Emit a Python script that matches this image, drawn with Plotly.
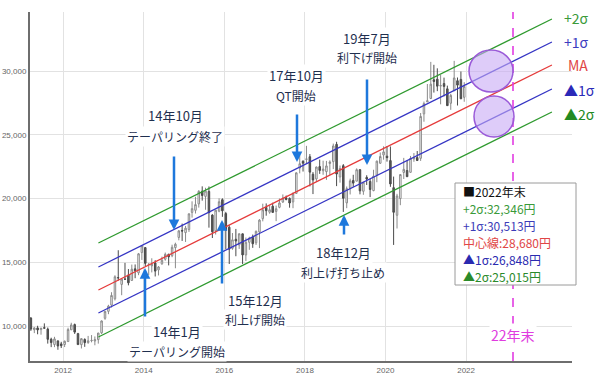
import plotly.graph_objects as go
import pandas as pd

# ---------------- data ----------------
first_month = "2011-03-01"
opens = [
    10620, 9708, 9850, 9719, 9868, 9758, 8964, 8545, 8835, 8597,
    8549, 8780, 9702, 10110, 9401, 8538, 8944, 8700, 8856, 8824, 8931, 9467,
    10604, 11150, 11640, 12135, 13799, 13261, 13676, 13994, 13572, 14484, 14170, 15759,
    16147, 14828, 14718, 14940, 14400, 14871, 15239, 15629, 15514, 16149, 16945, 17496,
    17325, 17562, 18913, 19074, 19576, 20571, 20164, 20553, 18697, 17468, 19007, 19910,
    18818, 17750, 16090, 16804, 16357, 17229, 15572, 16568, 16946, 16527, 17376, 18417,
    19298, 18923, 19393, 18985, 19309, 19722, 20055, 20008, 19733, 20400, 22389, 22916,
    23073, 23276, 21901, 21533, 22505, 22178, 22106, 22746, 22891, 24245, 21687, 22574,
    19655, 20797, 21416, 21358, 22258, 20566, 21659, 21339, 20616, 21831, 22764, 23415,
    23319, 22972, 20850, 18686, 19991, 22044, 22195, 22053, 23109, 23212, 23151, 26637,
    27576, 27843, 29314, 29357, 28814, 29015, 28600, 27469, 28451, 29235, 29341, 27936]
highs = [
    10700, 9900, 10017, 9876, 10207, 9880, 9082, 9152, 8835, 8759,
    8860, 9866, 10255, 10190, 9460, 9045, 9032, 9222, 9288, 9180, 9460, 10433,
    11190, 11662, 12650, 13980, 15942, 13711, 14953, 14466, 14818, 14828, 15727, 16320,
    16164, 14923, 15312, 15164, 14705, 15442, 15759, 15660, 16374, 16533, 17520, 18030,
    17850, 18826, 19778, 20133, 20655, 20953, 20841, 20946, 18770, 19117, 20012, 20012,
    18951, 17905, 17291, 17613, 17251, 17250, 16938, 17001, 17170, 17490, 18380, 19592,
    19615, 19460, 19668, 19445, 19998, 20318, 20230, 20080, 20481, 22048, 23383, 23000,
    24129, 23486, 22070, 22501, 23050, 22966, 22949, 22990, 24306, 24448, 22583, 22698,
    20940, 21556, 21860, 22362, 22308, 21290, 21823, 21540, 22255, 22975, 23608, 24091,
    24115, 24083, 21719, 20365, 21916, 23185, 23007, 23338, 23564, 23725, 26706, 27602,
    28979, 30714, 30485, 30208, 29685, 29480, 28852, 28209, 30796, 29489, 29960, 29121]
lows = [
    9620, 9441, 9351, 9318, 9811, 8619, 8343, 8343, 8135, 8272,
    8349, 8760, 9702, 9380, 8543, 8238, 8365, 8603, 8720, 8488, 8619, 9370,
    10486, 10927, 11452, 12004, 13555, 12415, 13614, 13188, 13572, 13748, 13986, 15180,
    14703, 13995, 14203, 13885, 13964, 14809, 15123, 14753, 15395, 14529, 16720, 16672,
    16592, 17380, 18498, 18820, 19287, 19832, 19115, 17714, 16901, 17176, 18922, 18562,
    16017, 14865, 15978, 15471, 16046, 14864, 15095, 15975, 16129, 16355, 16111, 18208,
    18650, 18805, 18909, 18224, 19233, 19656, 19856, 19280, 19239, 20392, 21972, 22114,
    22753, 20950, 20347, 21292, 21931, 21860, 21462, 21851, 22307, 20971, 21243, 18948,
    19241, 20315, 20911, 21358, 20327, 20289, 21060, 20110, 20570, 21276, 22726, 23044,
    22892, 20916, 16358, 17646, 19475, 21530, 21710, 22030, 22879, 22948, 22948, 26022,
    27575, 27800, 28308, 28419, 27385, 28010, 27272, 26954, 28451, 27293, 27797, 27588]
closes = [
    9755, 9850, 9694, 9816, 9833, 8955, 8700, 8988, 8434, 8455,
    8803, 9723, 10084, 9521, 8543, 9007, 8695, 8840, 8870, 8928, 9446, 10395,
    11139, 11559, 12398, 13861, 13775, 13677, 13668, 13389, 14456, 14328, 15662, 16291,
    14915, 14841, 14828, 14304, 14632, 15162, 15621, 15425, 16174, 16414, 17460, 17451,
    17674, 18798, 19207, 19520, 20563, 20236, 20585, 18890, 17388, 19083, 19747, 19034,
    17518, 16027, 16759, 16666, 17235, 15576, 16569, 16887, 16450, 17425, 18308, 19114,
    19041, 19119, 18909, 19197, 19651, 20033, 19925, 19646, 20356, 22012, 22725, 22765,
    23098, 22068, 21454, 22468, 22202, 22305, 22554, 22865, 24120, 21920, 22351, 20015,
    20773, 21385, 21206, 22259, 20601, 21276, 21522, 20704, 21756, 22927, 23294, 23657,
    23205, 21143, 18917, 20194, 21878, 22288, 21710, 23140, 23185, 22977, 26434, 27444,
    27663, 28966, 29179, 28813, 28860, 28792, 27284, 28090, 29453, 28893, 27822, 28792]

band_names = ["+2σ", "+1σ", "MA", "▲1σ", "▲2σ"]
band_dates = ["2012-11-16", "2024-02-18"]
band_start = [16510, 14627, 12824, 11020, 9137]
band_end = [34078, 32275, 30471, 28588, 26784]
band_colors = ["#2f9a2f", "#3535c4", "#e53b3b", "#3535c4", "#2f9a2f"]

summary_title = "■2022年末"
summary_labels = ["+2σ", "+1σ", "中心線", "▲1σ", "▲2σ"]
summary_values = [32346, 30513, 28680, 26848, 25015]
summary_colors = ["#3a9a3a", "#3c3cb8", "#e04545", "#2a2ab0", "#2a8a2a"]

events = [("14年10月", "テーパリング終了"), ("14年1月", "テーパリング開始"),
          ("15年12月", "利上げ開始"), ("17年10月", "QT開始"),
          ("19年7月", "利下げ開始"), ("18年12月", "利上げ打ち止め")]
end_label = "22年末"

x_ticks = ["2012-01-01", "2014-01-01", "2016-01-01", "2018-01-01", "2020-01-01", "2022-01-01"]
x_ticktext = ["2012", "2014", "2016", "2018", "2020", "2022"]
y_ticks = [10000, 15000, 20000, 25000, 30000]

# ---------------- figure ----------------
W, H = 600, 375
L, R, T, B = 30, 28, 12, 14
PW, PH = W - L - R, H - T - B


def px(xp):
    return (xp - L) / PW


def py(yp):
    return (H - B - yp) / PH


dates = pd.date_range(first_month, periods=len(closes), freq="MS") + pd.Timedelta(days=14)

fig = go.Figure()
for name, s, e, c in zip(band_names, band_start, band_end, band_colors):
    fig.add_trace(go.Scatter(x=band_dates, y=[s, e], mode="lines",
                             line=dict(color=c, width=1.3), name=name,
                             showlegend=False, hoverinfo="skip"))

fig.add_trace(go.Candlestick(
    x=dates, open=opens, high=highs, low=lows, close=closes,
    increasing=dict(line=dict(color="#8a8a8a", width=1), fillcolor="#ffffff"),
    decreasing=dict(line=dict(color="#4a4a4a", width=1), fillcolor="#5a5a5a"),
    whiskerwidth=0, showlegend=False, hoverinfo="skip"))

JP = "Noto Sans CJK JP"
shapes = []
# dashed 22年末 line
shapes.append(dict(type="line", xref="paper", yref="paper", x0=px(513), x1=px(513),
                   y0=0, y1=1, line=dict(color="#e23ce2", width=1.6, dash="dash")))
# circles
for (x0, x1, y0, y1) in [(469, 513, 50, 92), (474, 514, 96, 137)]:
    shapes.append(dict(type="circle", xref="paper", yref="paper",
                       x0=px(x0), x1=px(x1), y0=py(y1), y1=py(y0),
                       fillcolor="rgba(200,170,245,0.6)",
                       line=dict(color="#9a5ad8", width=1.5)))
# summary box
shapes.append(dict(type="rect", xref="paper", yref="paper", layer="above",
                   x0=px(455), x1=px(576), y0=py(285), y1=py(183),
                   fillcolor="white", line=dict(color="#9a9a9a", width=1)))

ann = []
text_col = "#1f2f4f"
# event text positions (center x, y line1, y line2)
ev_pos = [(175, 116, 136), (177, 331, 351), (255, 300, 319),
          (296, 76, 96), (367, 39, 58), (343, 253, 272)]
for (t1, t2), (cx, y1, y2) in zip(events, ev_pos):
    for t, yy, fs in ((t1, y1, 13), (t2, y2, 12)):
        ann.append(dict(text=t, xref="paper", yref="paper", x=px(cx), y=py(yy),
                        xanchor="center", yanchor="middle", showarrow=False,
                        font=dict(family=JP, size=fs, color=text_col),
                        bgcolor="white", borderpad=1))
# arrows: x, tail y, tip y
arrows = [(174, 155, 230), (145, 318, 268), (222, 285, 220),
          (297, 113, 162), (367, 78, 165), (344, 236, 215)]
for ax_, tail, tip in arrows:
    ann.append(dict(text="", xref="paper", yref="paper", x=px(ax_), y=py(tip),
                    ax=0, ay=tail - tip, axref="pixel", ayref="pixel",
                    showarrow=True, arrowhead=2, arrowsize=0.85, arrowwidth=2.5,
                    arrowcolor="#1e78dc", startstandoff=0, standoff=0))

# right-side band labels
lab_pos = [(562, 18), (562, 42), (566, 65), (562, 90), (562, 114)]
lab_cols = ["#3a9a3a", "#3c3cc0", "#e04545", "#2a2ab8", "#228a22"]
for name, (lx, ly), c in zip(band_names, lab_pos, lab_cols):
    ann.append(dict(text=name, xref="paper", yref="paper", x=px(lx), y=py(ly),
                    xanchor="left", yanchor="middle", showarrow=False,
                    font=dict(family=JP, size=14, color=c)))

# summary lines
sum_y = [191, 208, 225, 242, 259, 276]
sum_texts = [summary_title] + [f"{lab}:{v:,}円" for lab, v in zip(summary_labels, summary_values)]
sum_cols = ["#111111"] + summary_colors
for t, yy, c in zip(sum_texts, sum_y, sum_cols):
    ann.append(dict(text=t, xref="paper", yref="paper", x=px(462), y=py(yy),
                    xanchor="left", yanchor="middle", showarrow=False,
                    font=dict(family=JP, size=12, color=c), borderpad=0))

# 22年末 label
ann.append(dict(text=end_label, xref="paper", yref="paper", x=px(513), y=py(335),
                xanchor="center", yanchor="middle", showarrow=False,
                font=dict(family=JP, size=14, color="#e03ce0"),
                bgcolor="white", borderpad=1))

tick_font = dict(family="Liberation Sans", size=8, color="#666")
fig.update_layout(
    width=W, height=H, margin=dict(l=L, r=R, t=T, b=B, autoexpand=False),
    paper_bgcolor="white", plot_bgcolor="white",
    showlegend=False, hovermode=False,
    shapes=shapes, annotations=ann,
    xaxis=dict(type="date", range=["2011-03-07", "2024-08-18"],
               tickvals=x_ticks, ticktext=x_ticktext, automargin=False,
               showgrid=True, gridcolor="#e2e2e2", gridwidth=1,
               showline=True, linecolor="#6e6e6e", linewidth=2,
               ticks="", zeroline=False, rangeslider=dict(visible=False),
               tickfont=tick_font),
    yaxis=dict(range=[7255, 34627], tickvals=y_ticks, tickformat=",",
               automargin=False,
               showgrid=True, gridcolor="#e2e2e2", gridwidth=1,
               showline=True, linecolor="#6e6e6e", linewidth=2,
               ticks="", zeroline=False, tickfont=tick_font),
)

fig.write_html("out.html")
